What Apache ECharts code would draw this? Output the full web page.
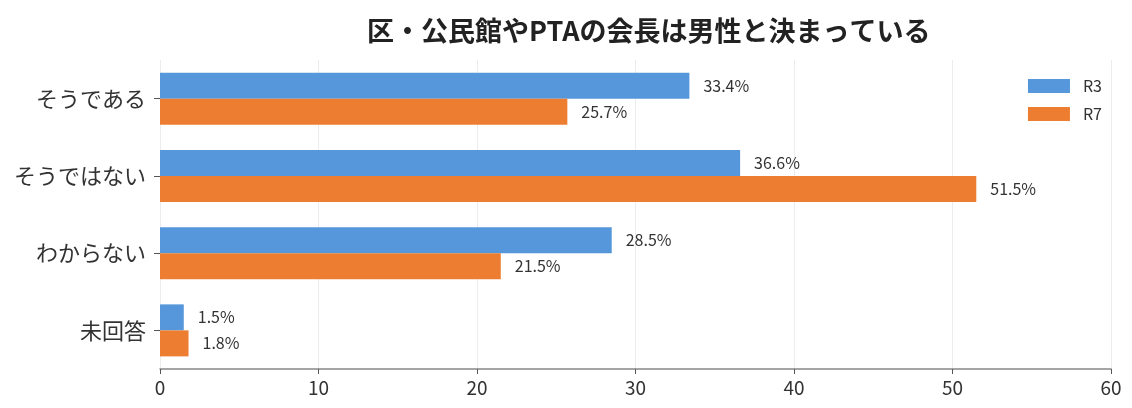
<!DOCTYPE html>
<html>
<head>
<meta charset="utf-8">
<script src="https://cdn.jsdelivr.net/npm/echarts@6/dist/echarts.min.js"></script>
<style>
  html, body { margin: 0; padding: 0; background: #fff; }
  #chart { width: 1132px; height: 408px; }
</style>
</head>
<body>
<div id="chart"></div>
<script>
// 回答の区分（上から順）
var categories = ['そうである', 'そうではない', 'わからない', '未回答'];
var r3Values = [33.4, 36.6, 28.5, 1.5];
var r7Values = [25.7, 51.5, 21.5, 1.8];
var xTicks = [0, 10, 20, 30, 40, 50, 60];

var myChart = echarts.init(document.getElementById('chart'));
var font = '"Noto Sans CJK JP", "Noto Sans", sans-serif';

var labelStyle = {
    show: true,
    position: 'right',
    distance: 14,
    color: '#333',
    fontSize: 16,
    fontFamily: font,
    formatter: function (p) { return p.value.toFixed(1) + '%'; }
};

var option = {
    animation: false,
    textStyle: { fontFamily: font },
    title: {
        text: '区・公民館やPTAの会長は男性と決まっている',
        left: 362,
        top: 12,
        textStyle: { fontSize: 27, fontWeight: 'bold', color: '#222', fontFamily: font }
    },
    legend: {
        data: ['R3', 'R7'],
        orient: 'vertical',
        right: 25,
        top: 73,
        itemWidth: 42,
        itemHeight: 14,
        itemGap: 12,
        icon: 'rect',
        textStyle: { fontSize: 16, color: '#333', fontFamily: font, padding: [0, 0, 0, 8] }
    },
    grid: {
        left: 160,
        right: 21,
        top: 60,
        bottom: 39
    },
    xAxis: {
        type: 'value',
        min: xTicks[0],
        max: xTicks[xTicks.length - 1],
        interval: 10,
        axisLine: { show: true, lineStyle: { color: '#888', width: 1.5 } },
        axisTick: { show: true, length: 5, lineStyle: { color: '#555' } },
        axisLabel: { fontSize: 19, color: '#333', margin: 9, fontFamily: font },
        splitLine: { show: true, lineStyle: { color: '#ececec' } }
    },
    yAxis: {
        type: 'category',
        inverse: true,
        data: categories,
        axisLine: { show: false },
        axisTick: { show: true, alignWithLabel: true, length: 6, lineStyle: { color: '#555' } },
        axisLabel: { fontSize: 22, color: '#333', margin: 14, fontFamily: font }
    },
    series: [
        {
            name: 'R3',
            type: 'bar',
            data: r3Values,
            color: '#5597da',
            barWidth: 26,
            barGap: '0%',
            label: labelStyle
        },
        {
            name: 'R7',
            type: 'bar',
            data: r7Values,
            color: '#ed7d31',
            barWidth: 26,
            barGap: '0%',
            label: labelStyle
        }
    ]
};
myChart.setOption(option);
</script>
</body>
</html>
